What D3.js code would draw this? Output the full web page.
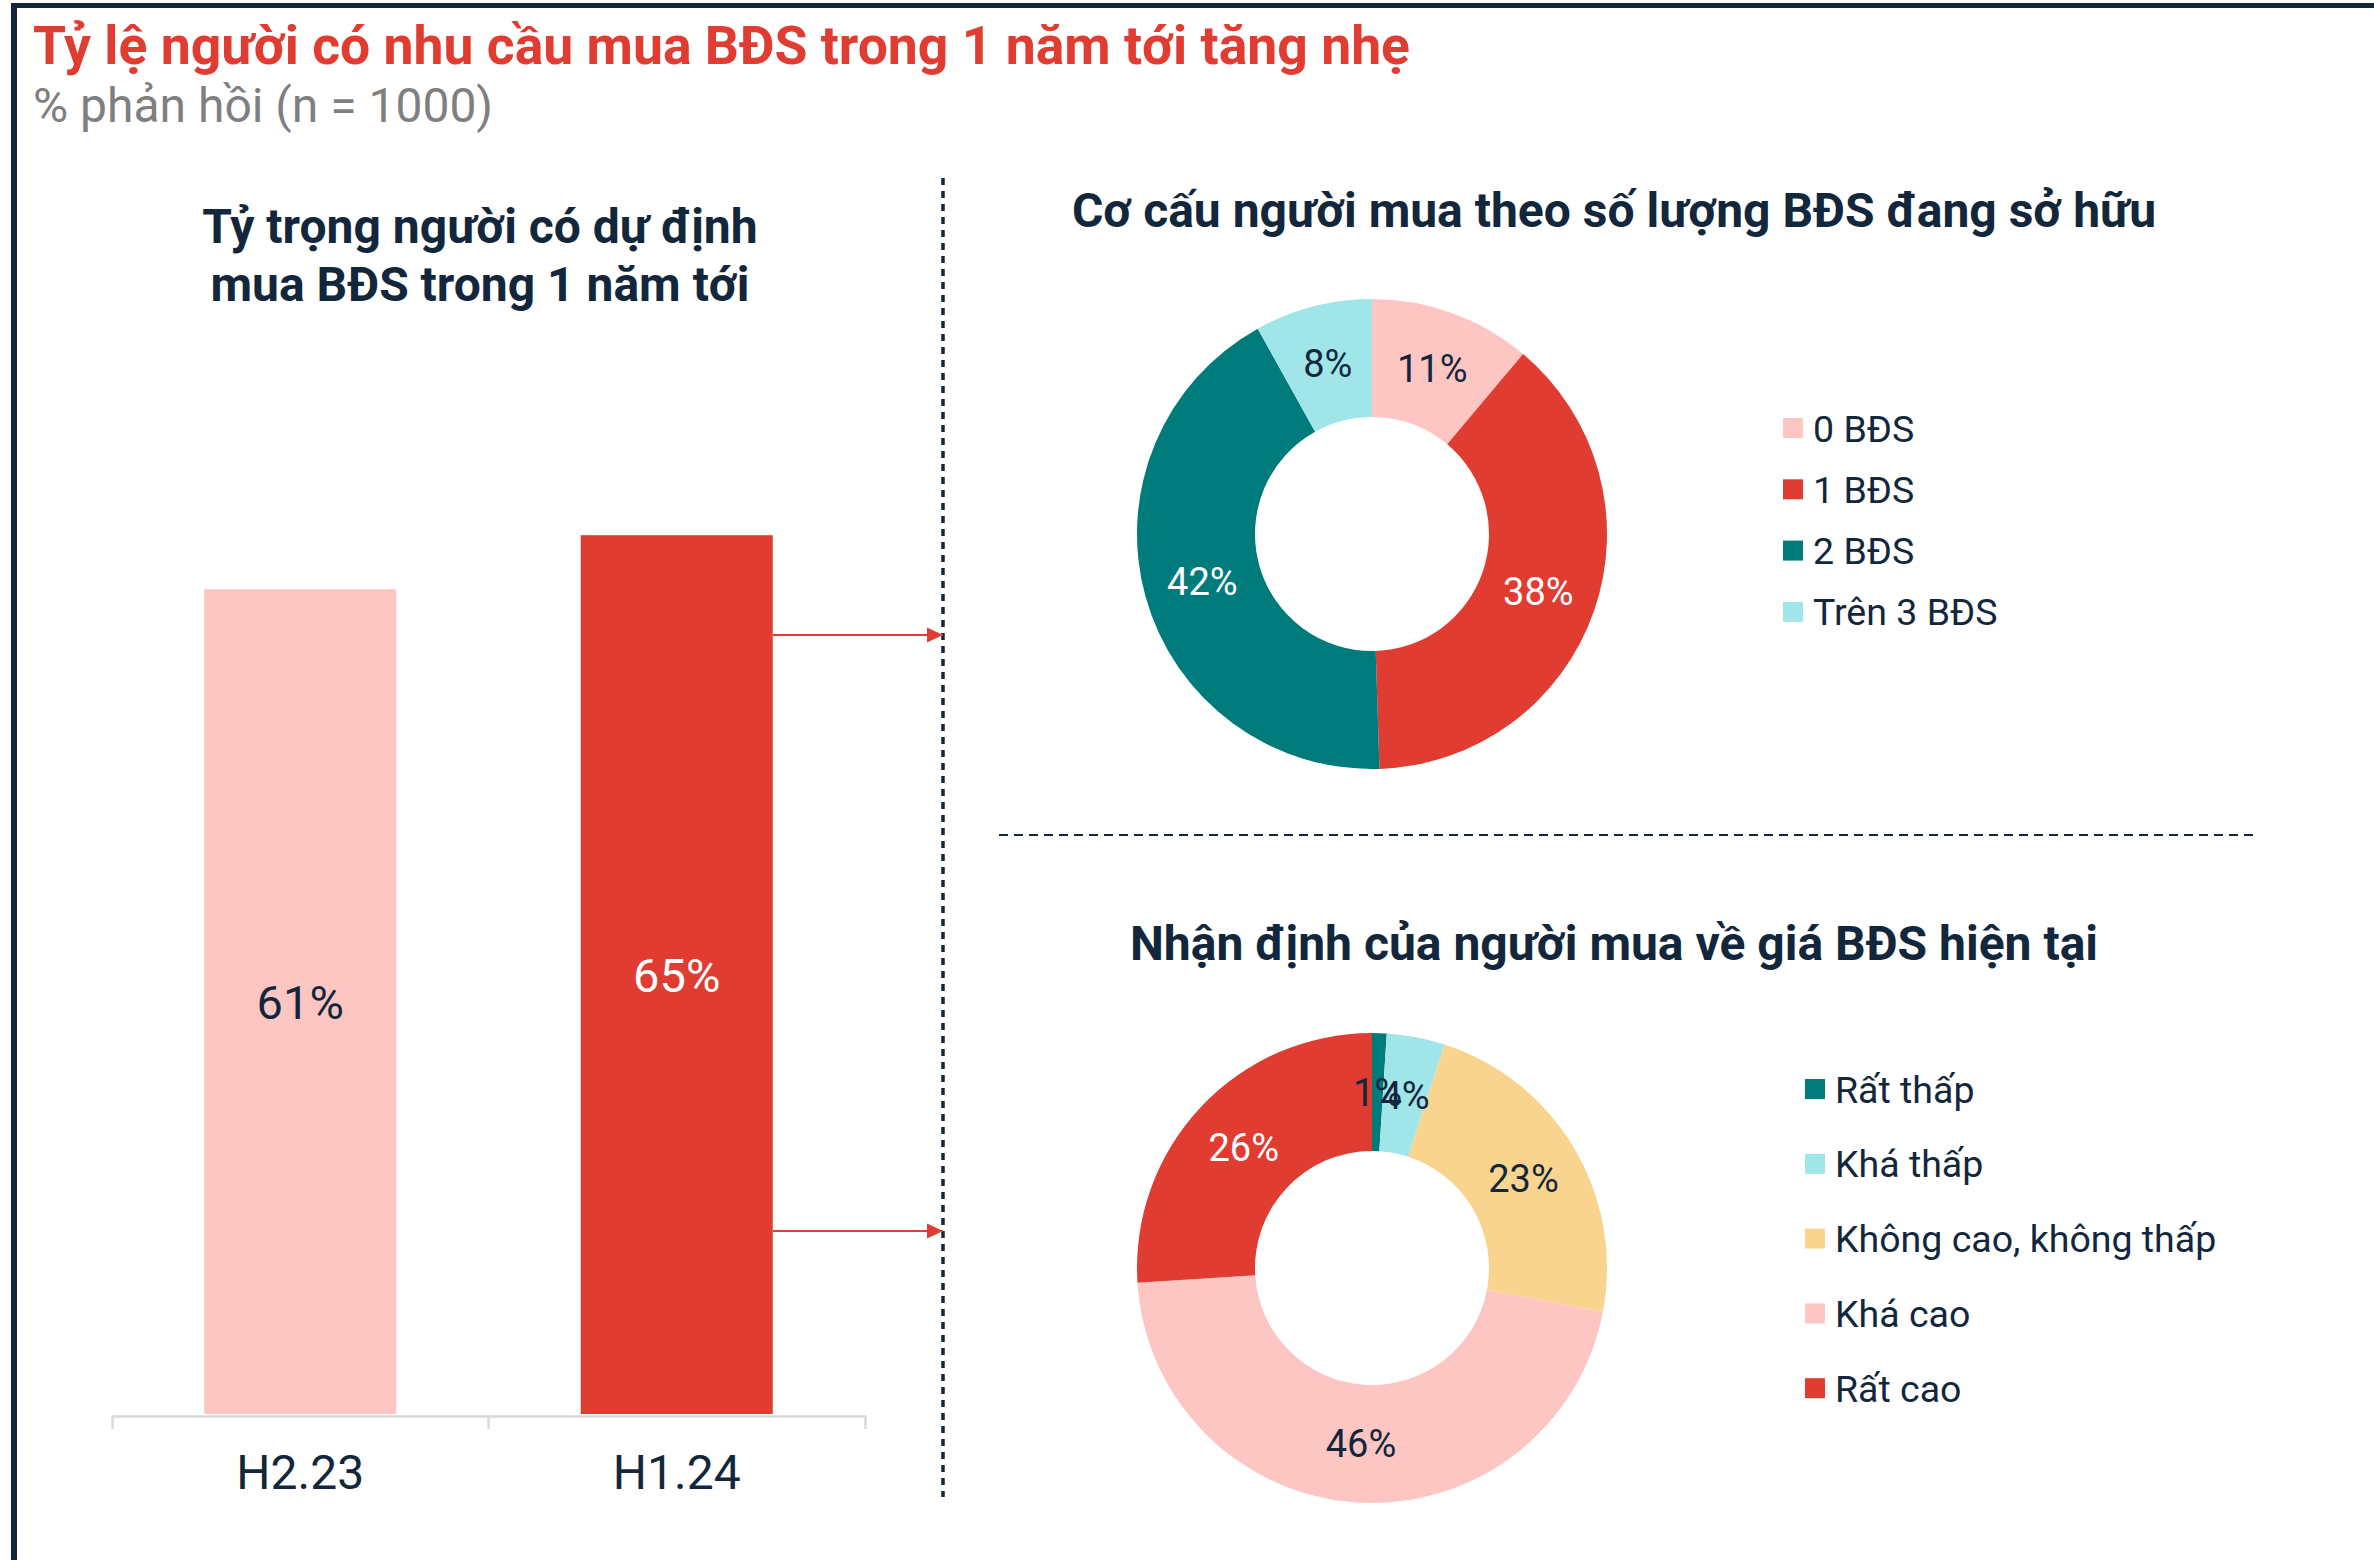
<!DOCTYPE html>
<html>
<head>
<meta charset="utf-8">
<script src="https://cdn.jsdelivr.net/npm/d3@7"></script>
<style>
  body { margin: 0; background: #fff; }
  svg { display: block; font-family: Roboto, "Noto Sans", sans-serif; }
</style>
</head>
<body>
<svg id="chart"></svg>
<script>
// ---- data ----
const periods = ["H2.23", "H1.24"];
const planShare = [61, 65];

const ownLabels = ["0 BĐS", "1 BĐS", "2 BĐS", "Trên 3 BĐS"];
const ownShare = [11, 38, 42, 8];

const priceLabels = ["Rất thấp", "Khá thấp", "Không cao, không thấp", "Khá cao", "Rất cao"];
const priceShare = [1, 4, 23, 46, 26];

// palette
const navy = "#13273c";
const red = "#e03c31";
const pink = "#fdc6c3";
const teal = "#007b7c";
const cyan = "#a0e5e7";
const sand = "#f8d48e";

const width = 2374;
const height = 1560;

const svg = d3.select("#chart")
  .attr("width", width)
  .attr("height", height);

svg.append("rect").attr("width", width).attr("height", height).attr("fill", "#fff");

// frame: navy band on top, navy rule on the left
svg.append("line")
  .attr("x1", 11).attr("x2", width).attr("y1", 5.5).attr("y2", 5.5)
  .attr("stroke", navy).attr("stroke-width", 5);
svg.append("line")
  .attr("x1", 14).attr("x2", 14).attr("y1", 3).attr("y2", height)
  .attr("stroke", navy).attr("stroke-width", 6);

// headline
svg.append("text")
  .attr("x", 33).attr("y", 64)
  .attr("font-size", 53.5).attr("font-weight", 700)
  .attr("fill", red)
  .text("Tỷ lệ người có nhu cầu mua BĐS trong 1 năm tới tăng nhẹ");

svg.append("text")
  .attr("x", 33).attr("y", 122)
  .attr("font-size", 48)
  .attr("fill", "#7f7f7f")
  .text("% phản hồi (n = 1000)");

// ---- left panel: bar chart ----
const barTitle = svg.append("text")
  .attr("text-anchor", "middle")
  .attr("font-size", 48).attr("font-weight", 700)
  .attr("fill", navy);
barTitle.append("tspan").attr("x", 480).attr("y", 243).text("Tỷ trọng người có dự định");
barTitle.append("tspan").attr("x", 480).attr("y", 301).text("mua BĐS trong 1 năm tới");

const x = d3.scaleBand().domain(periods).range([112, 865]);
const y = d3.scaleLinear().domain([0, 100]).range([1414, 1414 - 1352]);
const barW = x.bandwidth() * 0.51;
const barColor = d3.scaleOrdinal().domain(periods).range([pink, red]);
const barText = d3.scaleOrdinal().domain(periods).range([navy, "#fff"]);

svg.selectAll(".bar")
  .data(periods)
  .enter().append("rect")
    .attr("class", "bar")
    .attr("x", d => x(d) + (x.bandwidth() - barW) / 2)
    .attr("width", barW)
    .attr("y", (d, i) => y(planShare[i]))
    .attr("height", (d, i) => y(0) - y(planShare[i]))
    .attr("fill", d => barColor(d));

svg.selectAll(".bar-label")
  .data(periods)
  .enter().append("text")
    .attr("class", "bar-label")
    .attr("x", d => x(d) + x.bandwidth() / 2)
    .attr("y", (d, i) => (y(planShare[i]) + y(0)) / 2)
    .attr("dy", "0.36em")
    .attr("text-anchor", "middle")
    .attr("font-size", 47)
    .attr("fill", d => barText(d))
    .text((d, i) => planShare[i] + "%");

// category axis, Excel style: ticks sit on the band edges
const xAxis = svg.append("g")
  .attr("transform", `translate(0,${y(0) + 2})`)
  .call(d3.axisBottom(x).tickSize(0).tickSizeOuter(13).tickPadding(39));
xAxis.select(".domain").attr("stroke", "#d9d9d9").attr("stroke-width", 2.5);
xAxis.selectAll("text")
  .attr("font-family", "Roboto, sans-serif")
  .attr("font-size", 48)
  .attr("fill", navy);
xAxis.selectAll(".edge")
  .data(periods.slice(1))
  .enter().append("line")
    .attr("class", "edge")
    .attr("x1", d => x(d)).attr("x2", d => x(d))
    .attr("y1", 0).attr("y2", 13)
    .attr("stroke", "#d9d9d9").attr("stroke-width", 2.5);

// dividers
const splitX = 943;
svg.append("line")
  .attr("x1", splitX).attr("x2", splitX).attr("y1", 178).attr("y2", 1497)
  .attr("stroke", navy).attr("stroke-width", 3.5).attr("stroke-dasharray", "7,6");
svg.append("line")
  .attr("x1", 999).attr("x2", 2256).attr("y1", 835).attr("y2", 835)
  .attr("stroke", navy).attr("stroke-width", 2).attr("stroke-dasharray", "9,6");

// arrows from the H1.24 bar to each breakdown
svg.append("defs").append("marker")
  .attr("id", "head")
  .attr("viewBox", "0 0 16 16")
  .attr("refX", 16).attr("refY", 8)
  .attr("markerWidth", 16).attr("markerHeight", 16)
  .attr("markerUnits", "userSpaceOnUse")
  .attr("orient", "auto")
  .append("path").attr("d", "M0,0.5L16,8L0,15.5Z").attr("fill", red);

const barRight = x(periods[1]) + (x.bandwidth() + barW) / 2;
svg.selectAll(".arrow")
  .data([635, 1231])
  .enter().append("line")
    .attr("class", "arrow")
    .attr("x1", barRight).attr("x2", splitX)
    .attr("y1", d => d).attr("y2", d => d)
    .attr("stroke", red).attr("stroke-width", 2)
    .attr("marker-end", "url(#head)");

// ---- right panels: donuts ----
const pie = d3.pie().sort(null).value(d => d);
const arc = d3.arc().innerRadius(117).outerRadius(235);

function donut(opts) {
  const g = svg.append("g");

  g.append("text")
    .attr("x", 1614).attr("y", opts.titleY)
    .attr("text-anchor", "middle")
    .attr("font-size", 48).attr("font-weight", 700)
    .attr("fill", navy)
    .text(opts.title);

  const color = d3.scaleOrdinal().domain(opts.labels).range(opts.colors);
  const slices = pie(opts.values);
  const chart = g.append("g").attr("transform", `translate(1372,${opts.cy})`);

  chart.selectAll("path")
    .data(slices)
    .enter().append("path")
      .attr("d", arc)
      .attr("fill", (d, i) => color(opts.labels[i]));

  chart.selectAll(".pct")
    .data(slices)
    .enter().append("text")
      .attr("class", "pct")
      .attr("transform", d => `translate(${arc.centroid(d)})`)
      .attr("dy", "0.36em")
      .attr("text-anchor", "middle")
      .attr("font-size", 38)
      .attr("fill", (d, i) => opts.textColors[i])
      .text(d => d.data + "%");

  const legend = g.append("g")
    .attr("transform", `translate(${opts.legendX},${opts.legendY})`);
  const item = legend.selectAll("g")
    .data(opts.labels)
    .enter().append("g")
      .attr("transform", (d, i) => `translate(0,${i * opts.legendStep})`);
  item.append("rect")
    .attr("x", 0).attr("y", -10)
    .attr("width", 20).attr("height", 20)
    .attr("fill", d => color(d));
  item.append("text")
    .attr("x", 30).attr("dy", "0.36em")
    .attr("font-size", 37.5)
    .attr("fill", navy)
    .text(d => d);
}

donut({
  title: "Cơ cấu người mua theo số lượng BĐS đang sở hữu",
  titleY: 227,
  cy: 534,
  labels: ownLabels,
  values: ownShare,
  colors: [pink, red, teal, cyan],
  textColors: [navy, "#fff", "#fff", navy],
  legendX: 1783, legendY: 428, legendStep: 61.3
});

donut({
  title: "Nhận định của người mua về giá BĐS hiện tại",
  titleY: 960,
  cy: 1268,
  labels: priceLabels,
  values: priceShare,
  colors: [teal, cyan, sand, pink, red],
  textColors: [navy, navy, navy, navy, "#fff"],
  legendX: 1805, legendY: 1089, legendStep: 74.8
});
</script>
</body>
</html>
